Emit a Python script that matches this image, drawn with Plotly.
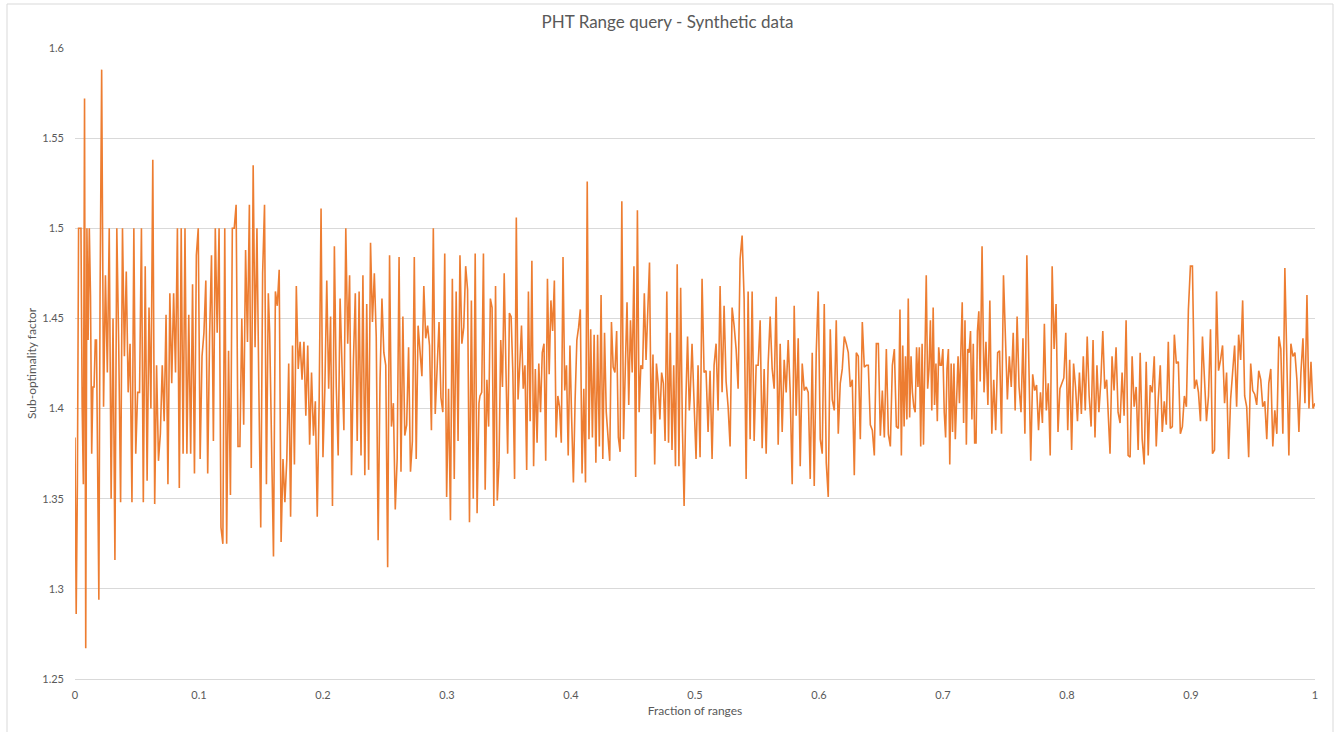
import numpy as np
import plotly.graph_objects as go

# ---- data: sub-optimality factor, grouped by x-span ----
seg_a1 = [1.384,1.286,1.358,1.5,1.5,1.5,1.401,1.358,1.572,1.267,
          1.5,1.438,1.5,1.462,1.375,1.412,1.412,1.438,1.438,1.352,
          1.294,1.462]
seg_a2 = [1.588,1.401,1.474,1.420,1.5,1.350,1.450,1.316,
          1.5,1.436,1.348,1.5,1.429,1.476,1.409,1.436,1.348,1.5,
          1.375,1.409,1.409,1.5,1.348,1.479,1.360,1.456,1.400,1.538,
          1.347,1.424,1.371,1.386,1.424,1.393,1.452,1.358,1.464,1.414,
          1.464,1.420,1.5,1.356,1.5,1.375,1.5,1.375,1.452,1.375,
          1.469,1.364,1.485,1.5,1.372,1.429,1.442,1.471,1.364,1.441,
          1.485,1.382,1.5,1.442,1.5,1.334,1.325,1.5,1.325,1.432,
          1.352,1.5,1.5,1.513,1.379,1.379,1.450,1.391,1.488,1.437,
          1.513,1.367,1.535,1.434,1.5,1.411,1.334,1.475,1.513,1.358,
          1.464]
seg_b = [1.442,1.383,1.318,1.465,1.457,1.477,1.326,1.372,1.348,1.372,
         1.425,1.340,1.435,1.369,1.468,1.422,1.437,1.416,1.437,1.396,
         1.435,1.380,1.420,1.385,1.404,1.340,1.404,1.511,1.373,1.411,
         1.471,1.411,1.451,1.346,1.490,1.412,1.374,1.461,1.420,1.388,
         1.500,1.436,1.474,1.363,1.426,1.464,1.382,1.465,1.374,1.474,
         1.363,1.458,1.366,1.492,1.448,1.475,1.440,1.327,1.416,1.461,
         1.431,1.424,1.312,1.485,1.390,1.403,1.344,1.372,1.484,1.365,
         1.451,1.385,1.391,1.434,1.365,1.382,1.484,1.372,1.446,1.429,
         1.418,1.468,1.439,1.446,1.435,1.388,1.500,1.397,1.428,1.448,
         1.406,1.398,1.486,1.351,1.411,1.338,1.472,1.361,1.465,1.382,
         1.485,1.436,1.445,1.479,1.466,1.337,1.460,1.350,1.486,1.342,
         1.403]
seg_c = [1.407,1.409,1.486,1.355,1.416,1.390,1.461,1.456,1.346,1.468,
         1.349,1.370,1.438,1.412,1.475,1.422,1.375,1.453,1.451,1.420,
         1.361,1.506,1.405,1.424,1.446,1.411,1.424,1.366,1.465,1.393,
         1.482,1.368,1.422,1.381,1.425,1.398,1.431,1.436,1.371,1.472,
         1.419,1.460,1.443,1.471,1.384,1.407,1.401,1.381,1.484,1.410,
         1.424,1.374,1.435,1.394,1.359,1.405,1.438,1.445,1.455,1.364,
         1.411,1.359,1.526,1.383,1.444,1.384,1.441,1.370,1.441,1.379,
         1.463,1.372,1.442,1.398,1.383,1.371,1.448,1.423,1.420,1.443,
         1.384,1.376,1.515,1.383,1.422,1.459,1.402,1.449,1.420,1.479,
         1.362,1.510,1.398,1.424,1.422,1.464,1.427,1.453,1.481,1.386,
         1.430,1.369,1.425,1.414,1.394,1.420,1.414,1.382,1.465,1.381,
         1.442,1.377,1.424,1.368,1.480,1.368,1.467,1.390,1.346,1.404,
         1.440,1.399]
seg_d = [1.405,1.436,1.403,1.372,1.424,1.373,1.472,1.420,1.421,1.387,
         1.421,1.372,1.424,1.436,1.399,1.468,1.409,1.457,1.415,1.401,
         1.379,1.456,1.446,1.433,1.411,1.483,1.496,1.461,1.361,1.465,
         1.383,1.465,1.382,1.424,1.424,1.449,1.378,1.422,1.375,1.425,
         1.451,1.422,1.411,1.462,1.380,1.436,1.387,1.427,1.409,1.438,
         1.409,1.358,1.457,1.396,1.439,1.368,1.425,1.410,1.412,1.409,
         1.361,1.431,1.357,1.431,1.465,1.383,1.375,1.458,1.370,1.351,
         1.444,1.405,1.399,1.449,1.386,1.414,1.422,1.440,1.436,1.431,
         1.412,1.416,1.363,1.431,1.429,1.383,1.448,1.423,1.424,1.424,
         1.391,1.388,1.374,1.436,1.436,1.385,1.410,1.384,1.433,1.386,
         1.379,1.424,1.433,1.390,1.389]
seg_e1 = [1.455,1.374,1.435,1.390,1.429,1.394,1.461,1.395,1.429,1.409,
          1.401,1.398,1.434,1.412,1.434,1.379,1.436,1.380,1.436,1.474,
          1.411,1.422,1.449,1.399,1.456,1.402,1.425,1.393,1.434,1.424,
          1.424,1.433,1.398,1.384,1.422,1.433,1.369,1.425,1.387,1.425,
          1.383,1.412,1.429,1.403,1.441,1.459,1.392,1.449,1.380,1.433,
          1.431,1.443,1.394,1.436,1.381,1.381,1.443,1.454,1.415]
seg_e2 = [1.490,
          1.409,1.437,1.402,1.460,1.386,1.416,1.388,1.431,1.432,1.386,
          1.474,1.435,1.405,1.429,1.412,1.442,1.399,1.451,1.412,1.398,
          1.439,1.386,1.485,1.427,1.371,1.419,1.410,1.413,1.388,1.409,
          1.392,1.447,1.399,1.414,1.374,1.479,1.433,1.458,1.387,1.411,
          1.414,1.417,1.442,1.388,1.427,1.377,1.425,1.412,1.393,1.420,
          1.397,1.429,1.399,1.440,1.407,1.390,1.438,1.384,1.424,1.398,
          1.415,1.443,1.411,1.416]
seg_f = [1.375,1.429,1.410,1.434,1.398,1.392,1.420,1.396,1.449,1.374,
         1.373,1.429,1.401,1.412,1.377,1.431,1.383,1.369,1.426,1.374,
         1.413,1.409,1.429,1.379,1.405,1.424,1.387,1.404,1.391,1.437,
         1.389,1.390,1.441,1.425,1.426,1.386,1.390,1.407,1.401,1.455,
         1.479,1.479,1.411,1.416,1.409,1.393,1.440,1.416,1.393,1.407,
         1.444,1.375,1.377,1.465,1.421,1.427,1.435,1.403,1.420,1.372,
         1.405,1.420,1.435,1.401,1.441,1.427,1.460,1.407,1.401,1.373,
         1.425,1.410,1.408,1.402,1.421,1.416,1.401,1.404,1.383,1.414,
         1.422,1.379,1.399,1.386,1.440,1.433,1.386,1.478,1.424,1.374,
         1.436,1.429,1.431,1.416,1.387,1.420,1.439,1.403,1.463,1.400,
         1.426,1.400,1.403]

# x-span (fraction of ranges) covered by each group
seg_spans = [(0.0, 0.0202), (0.0215, 0.1559), (0.157, 0.3258),
             (0.3266, 0.4954), (0.496, 0.664), (0.6653, 0.730),
             (0.7315, 0.832), (0.8347, 1.0)]
segments = [seg_a1, seg_a2, seg_b, seg_c, seg_d, seg_e1, seg_e2, seg_f]

y_ticks = [1.25, 1.3, 1.35, 1.4, 1.45, 1.5, 1.55, 1.6]
y_tick_labels = ["1.25", "1.3", "1.35", "1.4", "1.45", "1.5", "1.55", "1.6"]
x_ticks = [0, 0.1, 0.2, 0.3, 0.4, 0.5, 0.6, 0.7, 0.8, 0.9, 1]
x_tick_labels = ["0", "0.1", "0.2", "0.3", "0.4", "0.5", "0.6", "0.7", "0.8", "0.9", "1"]

xs, ys = [], []
for (a, b), vals in zip(seg_spans, segments):
    xs.extend(np.linspace(a, b, len(vals)).tolist())
    ys.extend(vals)

FONT = "Lato"
GREY = "#595959"
GRID = "#D9D9D9"

fig = go.Figure()
fig.add_trace(go.Scatter(x=xs, y=ys, mode="lines",
                         line=dict(color="#ED7D31", width=1.6),
                         showlegend=False, hoverinfo="x+y"))

W, H = 1335, 732
L, R, T, B = 75, 20, 48, 53
pw, ph = W - L - R, H - T - B

def px_x(p):
    return (p - L) / pw

def px_y(p):
    return (H - B - p) / ph

fig.update_layout(
    width=W, height=H,
    margin=dict(l=L, r=R, t=T, b=B, pad=0),
    paper_bgcolor="white", plot_bgcolor="white",
    font=dict(family=FONT, color=GREY, size=12),
    title=dict(text="PHT Range query - Synthetic data", x=0.5, xanchor="center",
               y=1 - 22 / H, yanchor="middle",
               font=dict(family=FONT, size=17, color=GREY)),
    xaxis=dict(range=[0, 1], tickvals=x_ticks, ticktext=x_tick_labels,
               showgrid=False, zeroline=False, showline=True, linecolor=GRID,
               linewidth=1, ticks="", ticklabelstandoff=6,
               tickfont=dict(family=FONT, size=11, color=GREY),
               title=dict(text="Fraction of ranges", standoff=6,
                          font=dict(family=FONT, size=12, color=GREY)),
               automargin=False),
    yaxis=dict(range=[1.25, 1.6], tickvals=y_ticks, ticktext=y_tick_labels,
               showgrid=True, gridcolor=GRID, gridwidth=1, zeroline=False,
               showline=False, ticks="", ticklabelstandoff=10,
               tickfont=dict(family=FONT, size=11, color=GREY),
               title=dict(text="Sub-optimality factor", standoff=3,
                          font=dict(family=FONT, size=12, color=GREY)),
               automargin=False),
    shapes=[dict(type="rect", xref="paper", yref="paper",
                 x0=px_x(7), x1=px_x(1333), y0=px_y(745), y1=px_y(4),
                 line=dict(color=GRID, width=1), fillcolor="rgba(0,0,0,0)",
                 layer="below")],
)

fig.write_html("out.html")
